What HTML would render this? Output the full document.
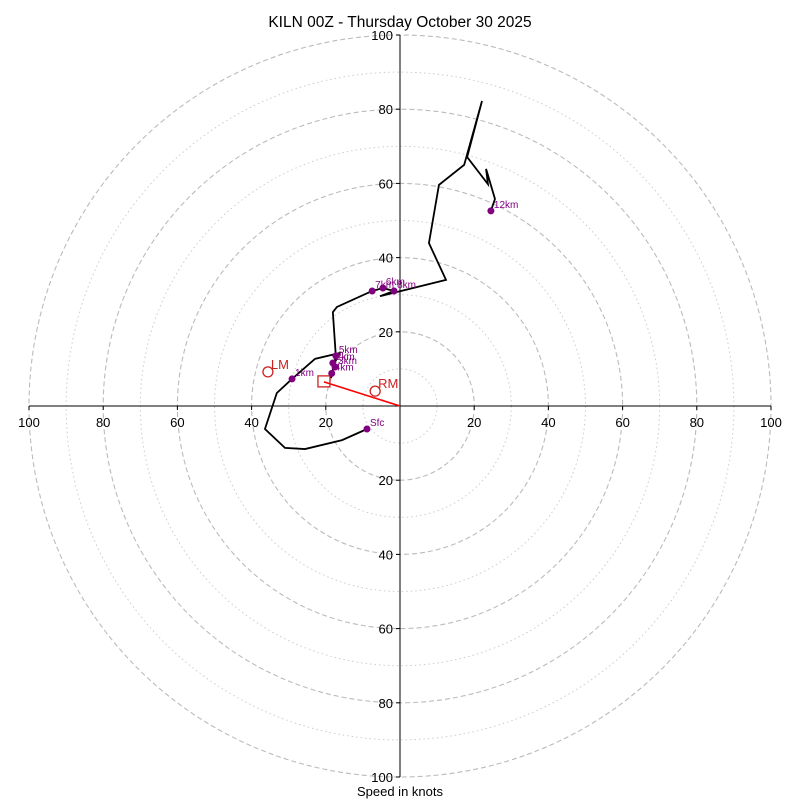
<!DOCTYPE html>
<html><head><meta charset="utf-8"><style>
body{margin:0;background:#fff;}
svg{display:block;font-family:"Liberation Sans","DejaVu Sans",sans-serif;}
</style></head><body>
<svg id="c" width="800" height="800"></svg>
<script>
const ringDashed=[20,40,60,80,100];
const ringDotted=[10,30,50,70,90];
const tickLabels=["20","40","60","80","100"];
const tickValues=[20,40,60,80,100];
const hodoU=[-8.9,-15.6,-25.6,-31.0,-36.4,-33.2,-29.1,-22.9,-16.2,-18.1,-18.1,-18.6,-17.3,-18.1,-17.0,-7.5,-4.6,-1.6,-5.4,12.4,7.8,10.5,17.3,22.1,18.1,23.7,23.2,25.6,24.5];
const hodoV=[-6.2,-9.2,-11.6,-11.3,-6.2,3.5,7.3,12.7,14.3,10.8,9.2,7.5,13.5,25.3,26.7,31.0,31.8,31.0,29.6,34.0,43.9,59.6,65.0,82.2,67.1,59.8,63.9,55.8,52.6];
const markNames=["Sfc","1km","2km","3km","4km","5km","6km","7km","8km","12km"];
const markU=[-8.9,-29.1,-18.1,-17.5,-18.4,-17.3,-4.6,-7.5,-1.6,24.5];
const markV=[-6.2,7.3,11.6,10.5,8.8,13.5,31.8,31.0,31.0,52.6];
const motionNames=["LM","RM"];
const motionU=[-35.6,-6.7];
const motionV=[9.2,4.0];
const meanU=[-20.5];
const meanV=[6.5];
const cx=400,cy=406,R=3.71;
const X=u=>cx+u*R, Y=v=>cy-v*R;
const svg=document.getElementById('c');
const NS="http://www.w3.org/2000/svg";
function mk(t,a,p){const e=document.createElementNS(NS,t);for(const k in a)e.setAttribute(k,a[k]);(p||svg).appendChild(e);return e;}
ringDotted.forEach(r=>{const e=mk('circle',{cx:cx,cy:cy,r:r*R,fill:'none',stroke:'#ccc','stroke-width':1,'stroke-dasharray':'1.5,3'});

});
ringDashed.forEach(r=>{const e=mk('circle',{cx:cx,cy:cy,r:r*R,fill:'none',stroke:'#bbb','stroke-width':1.1,'stroke-dasharray':'5,3'});

});
let a=mk('line',{x1:X(-100),y1:cy,x2:X(100),y2:cy,stroke:'#000','stroke-width':1});


a=mk('line',{x1:cx,y1:Y(100),x2:cx,y2:Y(-100),stroke:'#000','stroke-width':1});


tickValues.forEach((t,i)=>{
 [1,-1].forEach(s=>{
  let l=mk('line',{x1:X(s*t),y1:cy,x2:X(s*t),y2:cy+4,stroke:'#000'});
  
  
  let e=mk('text',{x:X(s*t),y:cy+21,'font-size':13,'text-anchor':'middle'});e.textContent=tickLabels[i];
  
  
  l=mk('line',{x1:cx-4,y1:Y(s*t),x2:cx,y2:Y(s*t),stroke:'#000'});
  
  
  e=mk('text',{x:cx-7,y:Y(s*t)+5,'font-size':13,'text-anchor':'end'});e.textContent=tickLabels[i];
  
  
 });
});
let pts=hodoU.map((u,i)=>X(u)+','+Y(hodoV[i])).join(' ');
let h=mk('polyline',{points:pts,fill:'none',stroke:'#000','stroke-width':1.8,'stroke-linejoin':'miter'});


let ml=mk('line',{x1:cx,y1:cy,x2:X(meanU[0]),y2:Y(meanV[0]),stroke:'red','stroke-width':1.6});


let bx=mk('rect',{x:X(meanU[0])-6,y:Y(meanV[0])-6,width:12,height:11,fill:'none',stroke:'#c22','stroke-width':1.3});


markNames.forEach((n,i)=>{
 const c=mk('circle',{cx:X(markU[i]),cy:Y(markV[i]),r:3.5,fill:'purple'});
 
 
 const t=mk('text',{x:X(markU[i])+3,y:Y(markV[i])-3,'font-size':10,fill:'purple'});t.textContent=n;
 
 
});
motionNames.forEach((n,i)=>{
 const c=mk('circle',{cx:X(motionU[i]),cy:Y(motionV[i]),r:5,fill:'none',stroke:'#c22','stroke-width':1.3});
 
 
 const t=mk('text',{x:X(motionU[i])+3,y:Y(motionV[i])-3,'font-size':13,fill:'#c22'});t.textContent=n;
 
 
});
let tt=mk('text',{x:400,y:27,'font-size':15.5,'text-anchor':'middle'});tt.textContent="KILN 00Z - Thursday October 30 2025";


tt=mk('text',{x:400,y:796,'font-size':13,'text-anchor':'middle'});tt.textContent="Speed in knots";


</script>
</body></html>
